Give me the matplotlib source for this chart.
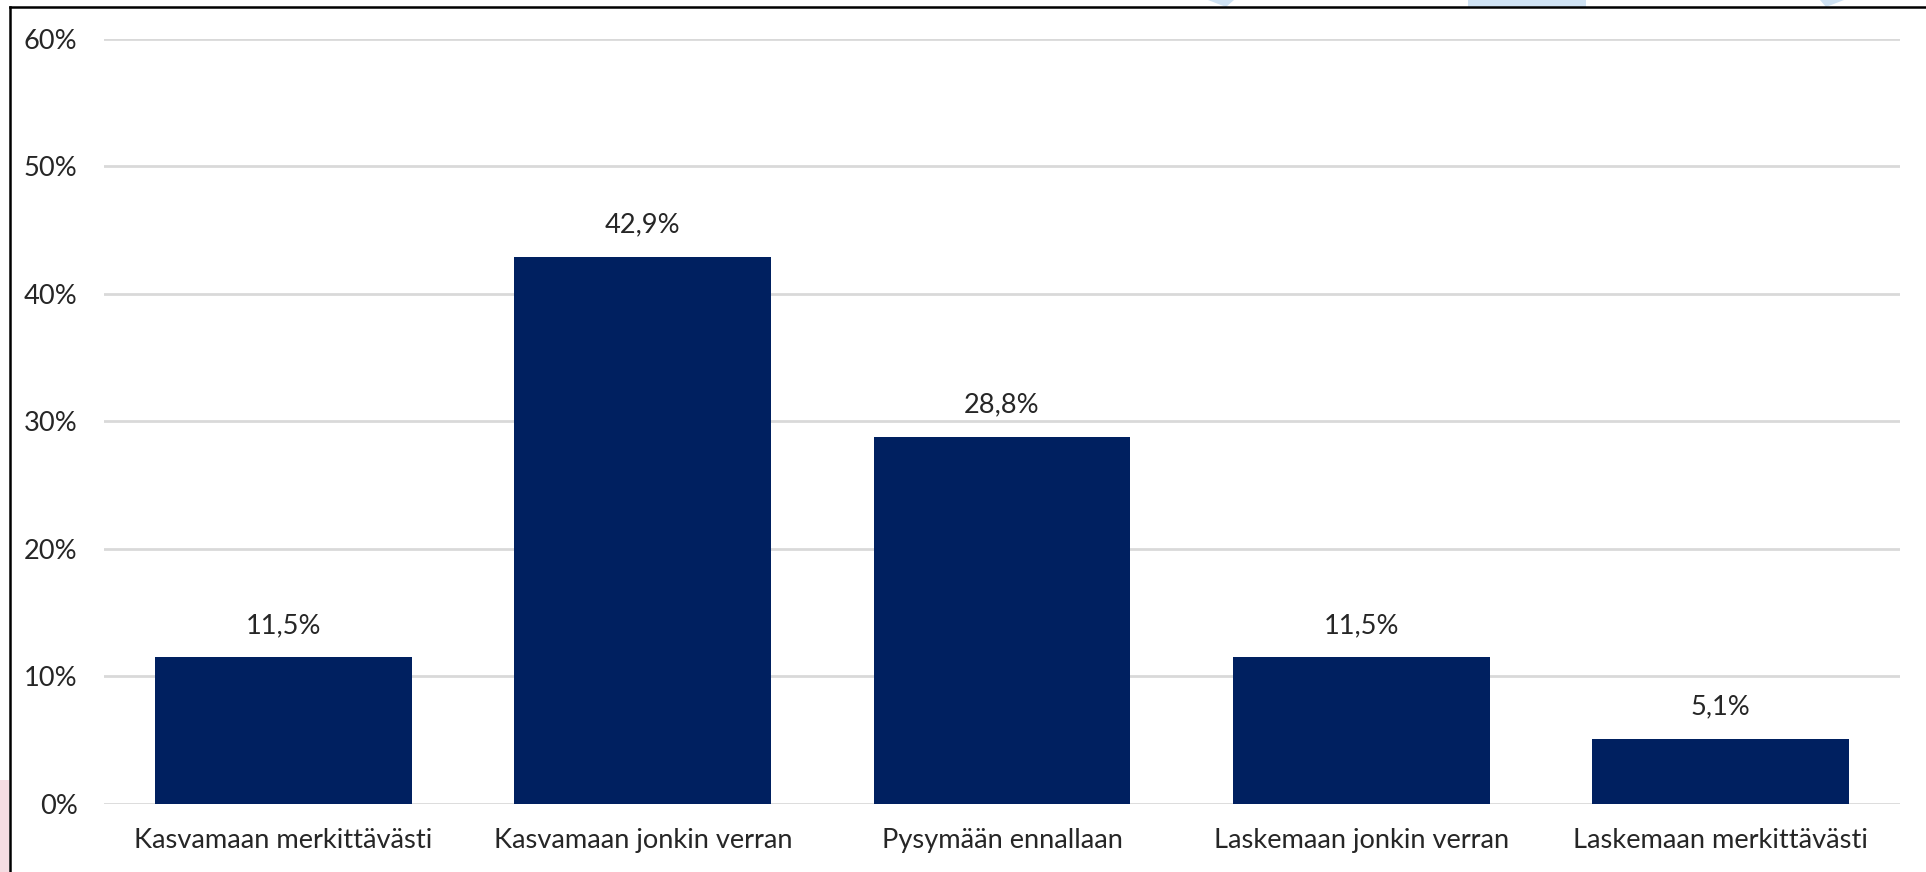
import matplotlib
matplotlib.use("Agg")
import matplotlib.pyplot as plt
from matplotlib.patches import Rectangle, Polygon
from matplotlib.lines import Line2D

categories = ["Kasvamaan merkittävästi", "Kasvamaan jonkin verran", "Pysymään ennallaan",
              "Laskemaan jonkin verran", "Laskemaan merkittävästi"]
values = [11.5, 42.9, 28.8, 11.5, 5.1]
value_labels = ["11,5%", "42,9%", "28,8%", "11,5%", "5,1%"]
yticks = [0, 10, 20, 30, 40, 50, 60]
ytick_labels = ["0%", "10%", "20%", "30%", "40%", "50%", "60%"]

W, H = 1926, 872
plt.rcParams['font.family'] = ['Lato', 'DejaVu Sans']
fig = plt.figure(figsize=(W / 100, H / 100), dpi=100)
fig.patch.set_facecolor("white")

# axes placement in pixels
x0, x1 = 104, 1900
y_top, y_zero = 38.7, 804
ax = fig.add_axes([x0 / W, 1 - y_zero / H, (x1 - x0) / W, (y_zero - y_top) / H])

FS = 19.6
xs = range(len(categories))
ax.bar(xs, values, width=0.715, color="#002060", zorder=3)
ax.set_xlim(-0.5, len(categories) - 0.5)
ax.set_ylim(0, 60)
ax.set_yticks(yticks)
ax.set_yticklabels(ytick_labels)
ax.set_xticks(list(xs))
ax.set_xticklabels(categories)
ax.tick_params(axis="y", length=0, pad=19, labelsize=FS, labelcolor="#262626")
ax.tick_params(axis="x", length=0, pad=17, labelsize=FS, labelcolor="#262626")
for s in ax.spines.values():
    s.set_visible(False)
ax.grid(axis="y", color="#d9d9d9", linewidth=2, zorder=0)
ax.set_axisbelow(True)
ax.set_facecolor("none")

for x, v, lab in zip(xs, values, value_labels):
    ax.annotate(lab, (x, v), xytext=(0, 14), textcoords="offset points",
                ha="center", va="bottom", fontsize=FS, color="#262626")

# screenshot background decorations (outside the chart frame)
fig.patches.append(Rectangle((0, 0), 9 / W, 92 / H, transform=fig.transFigure,
                             facecolor="#f4dde2", edgecolor="none", zorder=0))
fig.patches.append(Rectangle((1468 / W, 1 - 7 / H), 118 / W, 7 / H, transform=fig.transFigure,
                             facecolor="#cfe2f3", edgecolor="none", zorder=0))
for xl, xr, xt in ((1208, 1234, 1226), (1820, 1844, 1826)):
    fig.patches.append(Polygon([(xl / W, 1), (xr / W, 1), (xt / W, 1 - 7 / H)],
                               closed=True, transform=fig.transFigure,
                               facecolor="#cfe2f3", edgecolor="none", zorder=0))

# frame lines (left and top)
fig.lines.append(Line2D([10 / W, 10 / W], [0, 1 - 7 / H], transform=fig.transFigure,
                        color="black", linewidth=1.8))
fig.lines.append(Line2D([10 / W, 1], [1 - 7 / H, 1 - 7 / H], transform=fig.transFigure,
                        color="black", linewidth=1.8))

fig.savefig("out.png", dpi=100)
